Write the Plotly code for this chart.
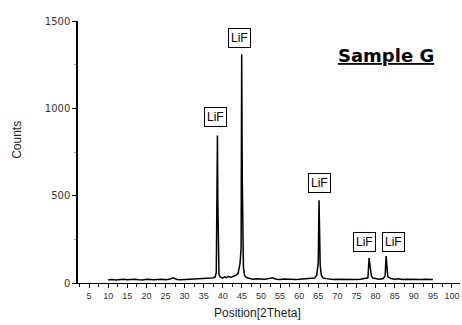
import plotly.graph_objects as go

# 2-theta positions (degrees) and intensities (counts)
two_theta = [10, 11, 12, 13, 14, 15, 16, 17, 18, 19, 20, 21, 22, 23, 24, 25, 26, 27, 28, 29,
             30, 31, 32, 33, 34, 35, 36, 37, 37.5, 38.0, 38.3, 38.5, 38.6, 38.7, 38.8, 38.9,
             39.0, 39.3, 39.6, 40, 40.5, 41, 41.5, 42, 42.5, 43, 43.5, 44, 44.5, 44.8, 44.95,
             45.1, 45.2, 45.4, 45.7, 46, 46.5, 47, 48, 49, 50, 51, 52, 53, 54, 55, 56, 57, 58,
             59, 60, 61, 62, 63, 64, 64.6, 65.0, 65.2, 65.35, 65.5, 65.8, 66.2, 67, 68, 69, 70,
             71, 72, 73, 74, 75, 76, 77, 78, 78.3, 78.45, 78.6, 78.9, 79.3, 80, 81, 82, 82.5,
             82.75, 82.95, 83.2, 84, 85, 86, 87, 88, 89, 90, 91, 92, 93, 94, 95]
counts = [18, 20, 17, 19, 21, 18, 20, 22, 19, 17, 21, 19, 18, 20, 22, 19, 21, 30, 20, 18,
          19, 21, 20, 22, 21, 23, 24, 28, 30, 35, 60, 480, 845, 480, 265, 120,
          50, 35, 30, 28, 35, 30, 38, 33, 36, 40, 45, 55, 110, 200, 1310,
          600, 205, 90, 45, 35, 28, 25, 22, 24, 21, 22, 25, 30, 22, 20, 23, 21, 22,
          20, 21, 23, 22, 24, 28, 45, 120, 473, 177, 100, 45, 30, 25, 22, 20, 22,
          21, 20, 22, 21, 20, 22, 24, 30, 143, 110, 85, 40, 28, 25, 22, 26, 40,
          154, 60, 35, 26, 22, 24, 20, 22, 21, 19, 21, 20, 22, 19, 20]

# peak labels
label_texts = ["LiF", "LiF", "LiF", "LiF", "LiF"]
label_x = [38.2, 44.5, 65.2, 77.2, 84.8]
label_y = [950, 1402, 572, 235, 235]

fig = go.Figure()
fig.add_trace(go.Scatter(x=two_theta, y=counts, mode="lines",
                         line=dict(color="black", width=1.5), showlegend=False))

for t, lx, ly in zip(label_texts, label_x, label_y):
    fig.add_annotation(x=lx, y=ly, xref="x", yref="y", text=t, showarrow=False,
                       xanchor="center", yanchor="middle",
                       font=dict(family="Liberation Sans", size=12, color="black"),
                       bordercolor="black", borderwidth=1, borderpad=2, bgcolor="white")

fig.add_annotation(x=0.806, y=0.870, xref="paper", yref="paper",
                   text="<b><u>Sample G</u></b>", showarrow=False,
                   xanchor="center", yanchor="middle",
                   font=dict(family="DejaVu Sans", size=18, color="black"))
fig.add_annotation(x=0.471, y=-0.1145, xref="paper", yref="paper", text="Position[2Theta]",
                   showarrow=False, xanchor="center", yanchor="middle",
                   font=dict(family="Liberation Sans", size=12, color="#222"))
fig.add_annotation(x=-0.16, y=0.546, xref="paper", yref="paper", text="Counts",
                   showarrow=False, textangle=-90, xanchor="center", yanchor="middle",
                   font=dict(family="Liberation Sans", size=12, color="#222"))

fig.update_xaxes(range=[2.1, 102.1], tickmode="linear", tick0=0, dtick=5,
                 ticks="outside", ticklen=4, tickcolor="black", tickwidth=1,
                 showline=True, linecolor="black", linewidth=1.2,
                 showgrid=False, zeroline=False,
                 minor=dict(ticks="outside", ticklen=3, tick0=2.5, dtick=2.5, tickcolor="black"),
                 tickfont=dict(family="Liberation Sans", size=9, color="#333"))
fig.update_yaxes(range=[0, 1500], tickmode="linear", tick0=0, dtick=500,
                 ticks="outside", ticklen=4, tickcolor="black", tickwidth=1,
                 showline=True, linecolor="black", linewidth=1.5,
                 showgrid=False, zeroline=False,
                 minor=dict(ticks="outside", ticklen=2, dtick=250, tickcolor="#999"),
                 tickfont=dict(family="DejaVu Sans", size=10, color="#333"))

fig.update_layout(width=462, height=325, margin=dict(l=78, r=2, t=21, b=42),
                  paper_bgcolor="white", plot_bgcolor="white")

fig.write_html("out.html")
